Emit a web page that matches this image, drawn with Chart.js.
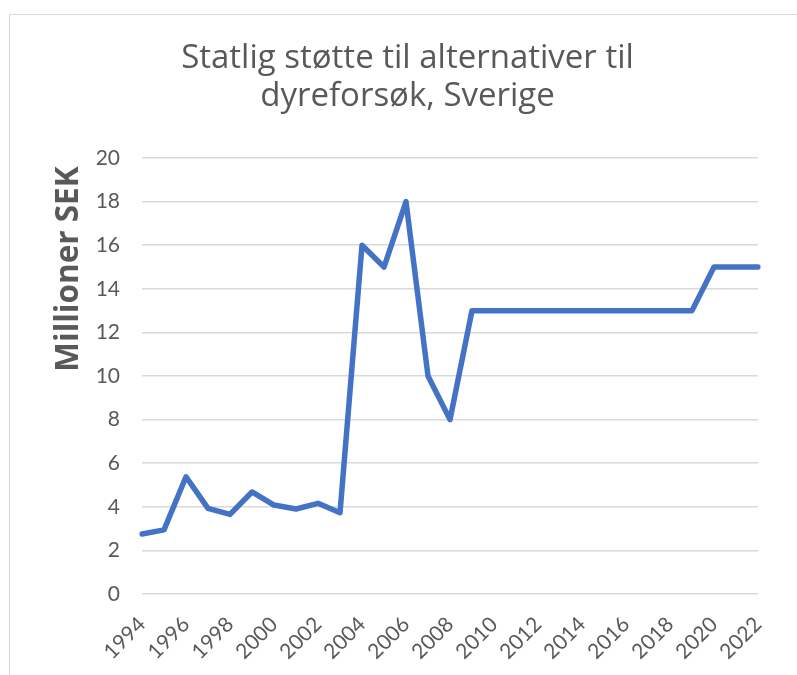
<!DOCTYPE html>
<html>
<head>
<meta charset="utf-8">
<script src="https://cdn.jsdelivr.net/npm/chart.js@4/dist/chart.umd.min.js"></script>
<style>
  html, body { margin: 0; padding: 0; background: #fff; overflow: hidden; }
  #frame { position: absolute; left: 9px; top: 14px; width: 797px; height: 700px;
           border: 1px solid #d9d9d9; box-sizing: border-box; }
  #wrap  { position: absolute; left: 10px; top: 15px; width: 795px; height: 660px; }
</style>
</head>
<body>
<div id="frame"></div>
<div id="wrap"><canvas id="chart"></canvas></div>
<script>
const TITLE_LINES = ["Statlig støtte til alternativer til", "dyreforsøk, Sverige"];
const Y_TITLE     = "Millioner SEK";
const YEARS  = [1994, 1995, 1996, 1997, 1998, 1999, 2000, 2001, 2002, 2003,
                2004, 2005, 2006, 2007, 2008, 2009, 2010, 2011, 2012, 2013,
                2014, 2015, 2016, 2017, 2018, 2019, 2020, 2021, 2022];
const VALUES = [2.75, 2.94, 5.38, 3.93, 3.65, 4.68, 4.08, 3.9, 4.16, 3.73,
                16, 15, 18, 10, 8, 13, 13, 13, 13, 13,
                13, 13, 13, 13, 13, 13, 15, 15, 15];
const Y_MIN = 0, Y_MAX = 20, Y_STEP = 2;

const TEXT   = "#595959";
const GRID   = "#d9d9d9";
const LINE   = "#4472c4";
const FAMILY = "'Open Sans', Lato, sans-serif";
const TICK_FAMILY = "Lato, 'Open Sans', sans-serif";

// y axis title sits above the plot centre in the original, so draw it by hand
const yTitlePlugin = {
  id: "yTitle",
  afterDraw(chart) {
    const ctx = chart.ctx;
    ctx.save();
    ctx.translate(59, 254);
    ctx.rotate(-Math.PI / 2);
    ctx.font = `bold 31.5px ${FAMILY}`;
    ctx.fillStyle = TEXT;
    ctx.textAlign = "center";
    ctx.textBaseline = "middle";
    ctx.fillText(Y_TITLE, 0, 0);
    ctx.restore();
  },
};

new Chart(document.getElementById("chart"), {
  type: "line",
  data: {
    labels: YEARS.map(String),
    datasets: [{
      data: VALUES,
      borderColor: LINE,
      borderWidth: 5.5,
      pointRadius: 0,
      tension: 0,
      borderJoinStyle: "round",
      borderCapStyle: "round",
    }],
  },
  options: {
    responsive: true,
    maintainAspectRatio: false,
    animation: false,
    layout: { padding: 0 },
    plugins: {
      legend:  { display: false },
      tooltip: { enabled: false },
      title: {
        display: true,
        text: TITLE_LINES,
        color: TEXT,
        font: { family: FAMILY, size: 33, weight: "normal", lineHeight: 1.14 },
        padding: { top: 25, bottom: 42.8 },
      },
    },
    scales: {
      x: {
        offset: false,
        grid:   { display: false },
        border: { display: false },
        ticks: {
          autoSkip: false,
          minRotation: 45,
          maxRotation: 45,
          padding: 10,
          color: TEXT,
          font: { family: TICK_FAMILY, size: 21 },
          callback: (v, i) => (YEARS[i] % 2 === 0 ? String(YEARS[i]) : ""),
        },
        afterFit(scale) { scale.height = 81; },
      },
      y: {
        min: Y_MIN,
        max: Y_MAX,
        grid:   { color: GRID, lineWidth: 1.5, drawTicks: false },
        border: { display: false },
        ticks: {
          stepSize: Y_STEP,
          padding: 22,
          color: TEXT,
          font: { family: TICK_FAMILY, size: 21 },
        },
        afterFit(scale) { scale.width = 132; },
      },
      spacer: {
        position: "right",
        display: true,
        grid:   { display: false },
        border: { display: false },
        ticks:  { display: false },
        afterFit(scale) { scale.width = 47; },
      },
    },
  },
  plugins: [yTitlePlugin],
});
</script>
</body>
</html>
